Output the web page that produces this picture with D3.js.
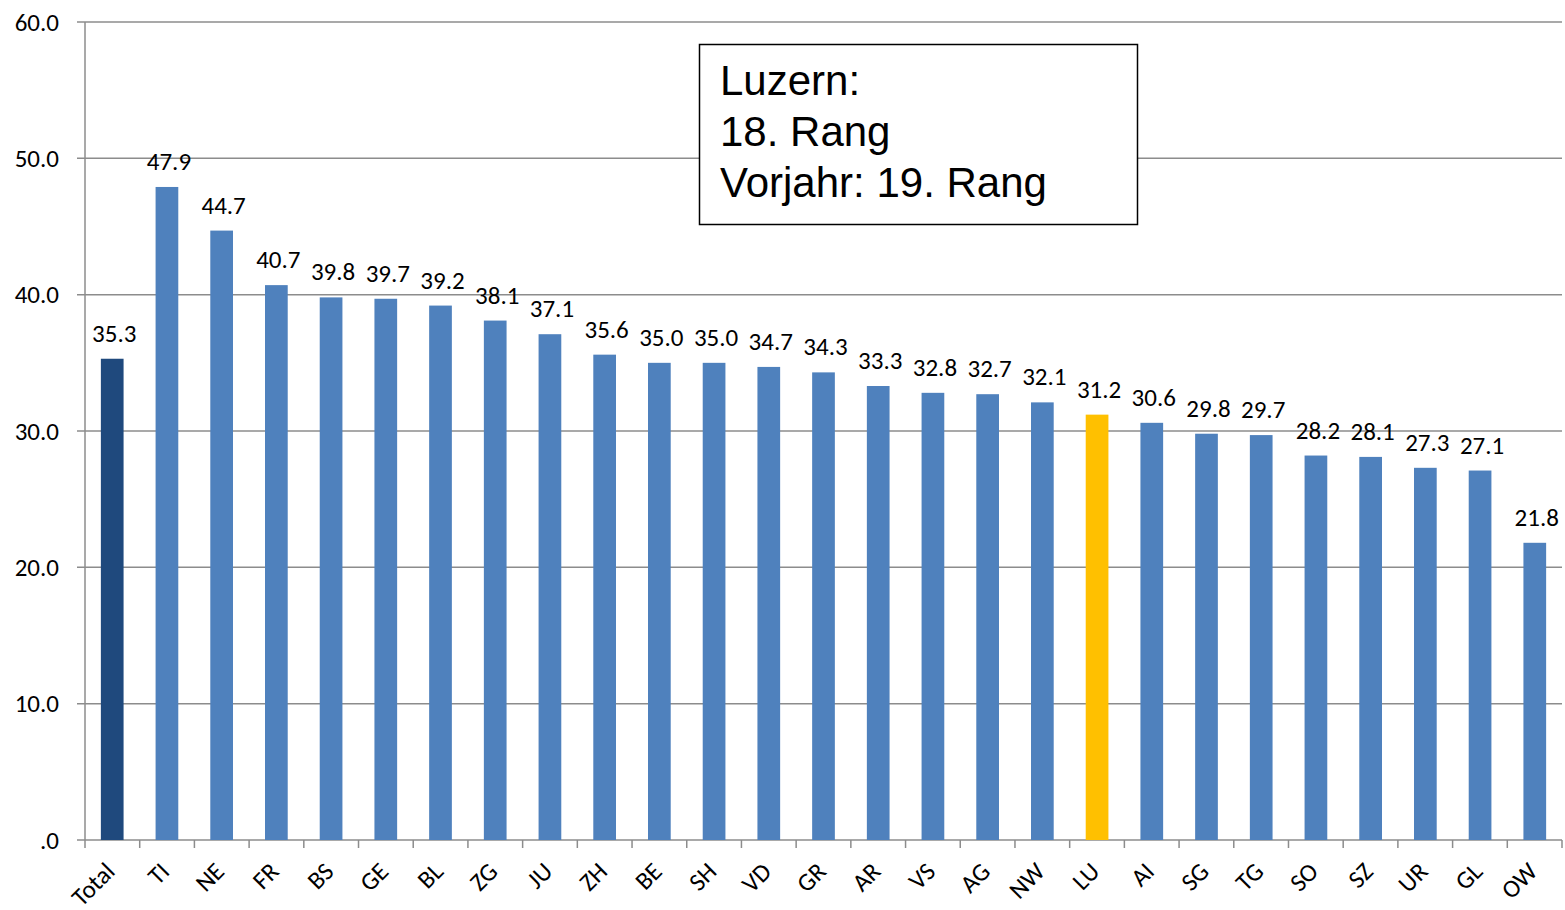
<!DOCTYPE html>
<html><head><meta charset="utf-8">
<script src="https://cdn.jsdelivr.net/npm/d3@7"></script>
<style>
html,body{margin:0;padding:0;background:#fff;}
svg{display:block;}
</style></head>
<body>
<svg id="chart" width="1565" height="910"></svg>
<script>
const categories = ["Total","TI","NE","FR","BS","GE","BL","ZG","JU","ZH","BE","SH","VD","GR","AR","VS","AG","NW","LU","AI","SG","TG","SO","SZ","UR","GL","OW"];
const values = [35.3,47.9,44.7,40.7,39.8,39.7,39.2,38.1,37.1,35.6,35.0,35.0,34.7,34.3,33.3,32.8,32.7,32.1,31.2,30.6,29.8,29.7,28.2,28.1,27.3,27.1,21.8];
const yTicks = [0,10,20,30,40,50,60];
const boxLines = ["Luzern:","18. Rang","Vorjahr: 19. Rang"];

(function(){
const svg = d3.select("#chart");
const pLeft = 85, pRight = 1562, pTop = 22, pBottom = 840;
const font = "Carlito, Calibri, 'Open Sans', sans-serif";
const fs = 25;
const gridColor = "#8c8c8c";

const x = d3.scaleBand().domain(categories).range([pLeft, pRight]).paddingInner(0.585).paddingOuter(0.29);
const xb = d3.scaleBand().domain(categories).range([pLeft, pRight]);
const y = d3.scaleLinear().domain([0, 60]).range([pBottom, pTop]);

svg.append("g").selectAll("line").data(yTicks).join("line")
  .attr("x1", pLeft - 8).attr("x2", pRight)
  .attr("y1", d => y(d)).attr("y2", d => y(d))
  .attr("stroke", gridColor).attr("stroke-width", 1.5);

svg.append("g").selectAll("text").data(yTicks).join("text")
  .attr("x", 59).attr("y", d => y(d)).attr("dy", "0.35em")
  .attr("text-anchor", "end")
  .attr("font-family", font).attr("font-size", fs).attr("fill", "#000")
  .text(d => d === 0 ? ".0" : d.toFixed(1));

svg.append("line").attr("x1", pLeft).attr("x2", pLeft).attr("y1", pTop).attr("y2", pBottom)
  .attr("stroke", gridColor).attr("stroke-width", 1.5);

const bounds = categories.map(c => xb(c)).concat([pRight]);
svg.append("g").selectAll("line").data(bounds).join("line")
  .attr("x1", d => d).attr("x2", d => d)
  .attr("y1", pBottom).attr("y2", pBottom + 8)
  .attr("stroke", gridColor).attr("stroke-width", 1.5);

const colorFor = c => c === "Total" ? "#1F497D" : (c === "LU" ? "#FFC000" : "#4F81BD");
svg.append("g").selectAll("rect").data(categories).join("rect")
  .attr("x", c => x(c)).attr("width", x.bandwidth())
  .attr("y", (c, i) => y(values[i])).attr("height", (c, i) => pBottom - y(values[i]))
  .attr("fill", c => colorFor(c));

svg.append("g").selectAll("text").data(categories).join("text")
  .attr("x", c => x(c) + x.bandwidth() / 2 + 2)
  .attr("y", (c, i) => y(values[i]) - 17)
  .attr("text-anchor", "middle")
  .attr("font-family", font).attr("font-size", fs).attr("fill", "#000")
  .text((c, i) => values[i].toFixed(1));

svg.append("g").selectAll("text").data(categories).join("text")
  .attr("transform", c => `translate(${xb(c) + xb.bandwidth() / 2 + 4},${pBottom + 33}) rotate(-45)`)
  .attr("text-anchor", "end")
  .attr("font-family", font).attr("font-size", fs).attr("fill", "#000")
  .text(c => c);

svg.append("rect").attr("x", 699.5).attr("y", 44.5).attr("width", 438).attr("height", 180)
  .attr("fill", "#fff").attr("stroke", "#000").attr("stroke-width", 1.5);
svg.append("g").selectAll("text").data(boxLines).join("text")
  .attr("x", 720).attr("y", (d, i) => 95 + i * 51)
  .attr("font-family", "'Liberation Sans', Arial, sans-serif").attr("font-size", 42).attr("fill", "#000")
  .text(d => d);
})();
</script>
</body></html>
